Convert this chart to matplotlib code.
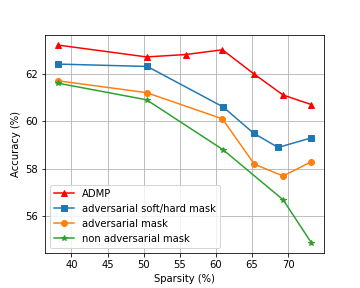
import numpy as np
import matplotlib
matplotlib.use("Agg")
import matplotlib.pyplot as plt

admp_x = [38.1, 50.4, 55.8, 60.9, 65.2, 69.3, 73.2]
admp_y = [63.2, 62.7, 62.8, 63.0, 62.0, 61.1, 60.7]

soft_x = [38.1, 50.5, 61.0, 65.2, 68.6, 73.2]
soft_y = [62.4, 62.3, 60.6, 59.5, 58.9, 59.3]

adv_x = [38.1, 50.4, 60.9, 65.3, 69.3, 73.2]
adv_y = [61.7, 61.2, 60.1, 58.2, 57.7, 58.3]

non_x = [38.1, 50.4, 61.0, 69.3, 73.2]
non_y = [61.6, 60.9, 58.8, 56.7, 54.9]

fig = plt.figure(figsize=[5, 4], dpi=72)
plt.plot(admp_x, admp_y, color='red', marker='^', label='ADMP')
plt.plot(soft_x, soft_y, color='tab:blue', marker='s', label='adversarial soft/hard mask')
plt.plot(adv_x, adv_y, color='tab:orange', marker='o', label='adversarial mask')
plt.plot(non_x, non_y, color='tab:green', marker='*', label='non adversarial mask')
plt.grid()
plt.xlabel('Sparsity (%)')
plt.ylabel('Accuracy (%)')
plt.legend(loc='lower left')
plt.subplots_adjust(left=0.125, right=0.9, top=0.878, bottom=0.123)
plt.savefig('out.png', dpi=72)
